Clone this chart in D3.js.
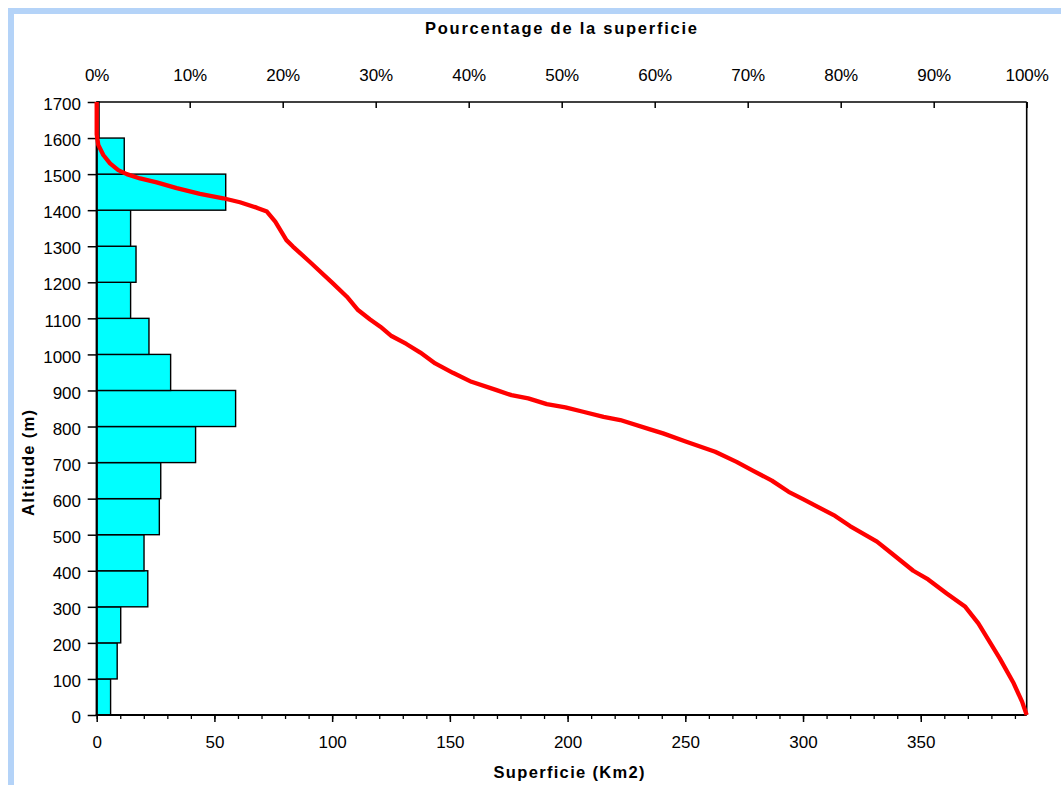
<!DOCTYPE html>
<html>
<head>
<meta charset="utf-8">
<script src="https://cdn.jsdelivr.net/npm/d3@7"></script>
<style>
  html, body { margin: 0; padding: 0; background: #ffffff; }
  svg { display: block; }
  text { font-family: "Liberation Sans", Arial, sans-serif; fill: #000; }
</style>
</head>
<body>
<script>
// ---- Data ----
// Histogram: area (km2) per 100 m altitude band (band lower bound)
const bandLower = [0, 100, 200, 300, 400, 500, 600, 700, 800, 900, 1000, 1100, 1200, 1300, 1400, 1500, 1600];
const bandArea  = [5.9, 8.7, 10.2, 21.7, 20.1, 26.6, 27.2, 42.0, 59.0, 31.4, 22.2, 14.4, 16.7, 14.4, 54.8, 11.7, 1.0];

// Hypsometric curve: cumulative % of area above altitude
const curveAltitude = [1700, 1610, 1581, 1553, 1530, 1511, 1500, 1488, 1477, 1461, 1445, 1433, 1422, 1407, 1396,
  1368, 1317, 1299, 1257, 1197, 1160, 1123, 1097, 1077, 1051, 1029, 1005, 975, 949, 924, 901, 887, 878, 862, 853,
  841, 827, 818, 792, 781, 758, 730, 702, 677, 650, 619, 598, 552, 524, 481, 448, 425, 400, 376, 337, 300, 254,
  199, 157, 88, 37, 0];
const curvePercent = [0, 0, 0.17, 0.71, 1.43, 2.32, 3.23, 4.66, 6.45, 8.6, 11.1, 13.6, 15.4, 17.2, 18.3,
  19.2, 20.4, 21.1, 22.9, 25.4, 26.9, 28.1, 29.4, 30.5, 31.7, 33.3, 34.8, 36.4, 38.3, 40.3, 43.0, 44.6, 46.4, 48.4, 50.4,
  52.3, 54.5, 56.3, 59.5, 60.9, 63.4, 66.5, 68.8, 70.6, 72.6, 74.4, 76.0, 79.4, 81.0, 83.9, 85.5, 86.6, 87.8, 89.4, 91.4, 93.4, 94.8,
  96.1, 97.1, 98.6, 99.5, 100];

// Axis ticks / labels
const areaMajorTicks = [0, 50, 100, 150, 200, 250, 300, 350];
const areaMinorTicks = d3.range(0, 400, 10);
const altitudeTicks = [0, 100, 200, 300, 400, 500, 600, 700, 800, 900, 1000, 1100, 1200, 1300, 1400, 1500, 1600, 1700];
const percentTicks = [0, 10, 20, 30, 40, 50, 60, 70, 80, 90, 100];
const totalArea = 395;

const titleTop = "Pourcentage de la superficie";
const titleBottom = "Superficie (Km2)";
const titleLeft = "Altitude (m)";

// ---- Layout ----
const W = 1061, H = 785;
const L = 96.7, R = 1026.7, T = 102, B = 715;

const svg = d3.select("body").append("svg").attr("width", W).attr("height", H);

// Outer light-blue frame (top and left bands)
svg.append("rect").attr("x", 8).attr("y", 8).attr("width", W - 8).attr("height", 6).attr("fill", "#b4d3f8");
svg.append("rect").attr("x", 8).attr("y", 8).attr("width", 6).attr("height", H - 8).attr("fill", "#b4d3f8");

const x = d3.scaleLinear().domain([0, totalArea]).range([L, R]);
const xPct = d3.scaleLinear().domain([0, 100]).range([L, R]);
const y = d3.scaleLinear().domain([0, 1700]).range([B, T]);

// Bars
svg.append("g").selectAll("rect").data(bandLower.map((b, i) => ({ b, a: bandArea[i] })))
  .join("rect")
  .attr("x", x(0))
  .attr("y", d => y(d.b + 100))
  .attr("width", d => x(d.a) - x(0))
  .attr("height", d => y(d.b) - y(d.b + 100))
  .attr("fill", "#00ffff")
  .attr("stroke", "#000")
  .attr("stroke-width", 1.4);

// Frame: top and right
svg.append("line").attr("x1", L).attr("x2", R).attr("y1", T).attr("y2", T).attr("stroke", "#000").attr("stroke-width", 1.6);
svg.append("line").attr("x1", R).attr("x2", R).attr("y1", T).attr("y2", B).attr("stroke", "#000").attr("stroke-width", 1.6);

const fs = "17px";
const ff = "Liberation Sans, Arial, sans-serif";

// Bottom axis - minor
const gMinor = svg.append("g").attr("transform", `translate(0,${B})`)
  .call(d3.axisBottom(x).tickValues(areaMinorTicks).tickSize(4).tickFormat(""));
gMinor.select(".domain").remove();
gMinor.selectAll("line").attr("stroke-width", 1.3);

// Bottom axis - major
const gBottom = svg.append("g").attr("transform", `translate(0,${B})`)
  .call(d3.axisBottom(x).tickValues(areaMajorTicks).tickSize(7).tickPadding(14).tickFormat(d3.format("d")));
gBottom.select(".domain").remove();
gBottom.selectAll("line").attr("stroke-width", 1.5);
gBottom.selectAll("text").style("font-size", fs).style("font-family", ff);

// Left axis
const gLeft = svg.append("g").attr("transform", `translate(${L},0)`)
  .call(d3.axisLeft(y).tickValues(altitudeTicks).tickSize(9).tickPadding(6.7).tickFormat(d3.format("d")));
gLeft.select(".domain").remove();
gLeft.selectAll("line").attr("stroke-width", 1.5);
gLeft.selectAll("text").style("font-size", fs).attr("dy", "0.45em").style("font-family", ff);

// Top axis (percent), ticks inward
const gTop = svg.append("g").attr("transform", `translate(0,${T})`)
  .call(d3.axisTop(xPct).tickValues(percentTicks).tickSize(-6).tickPadding(21).tickFormat(d => d + "%"));
gTop.select(".domain").remove();
gTop.selectAll("line").attr("stroke-width", 1.5);
gTop.selectAll("text").style("font-size", fs).style("font-family", ff);

// Axis lines (left, bottom)
svg.append("line").attr("x1", L).attr("x2", L).attr("y1", T).attr("y2", B + 1).attr("stroke", "#000").attr("stroke-width", 2.2);
svg.append("line").attr("x1", L - 1).attr("x2", R).attr("y1", B).attr("y2", B).attr("stroke", "#000").attr("stroke-width", 2.2);

// Curve
const line = d3.line().x(d => xPct(d[1])).y(d => y(d[0]));
svg.append("path")
  .datum(curveAltitude.map((a, i) => [a, curvePercent[i]]))
  .attr("d", line)
  .attr("fill", "none")
  .attr("stroke", "#ff0000")
  .attr("stroke-width", 4.3)
  .attr("stroke-linejoin", "round");

// Titles
svg.append("text").attr("x", 561).attr("y", 34).attr("text-anchor", "middle")
  .style("font-size", "16.5px").style("font-weight", "bold")
  .attr("textLength", 272).attr("lengthAdjust", "spacing").text(titleTop);

svg.append("text").attr("x", 569).attr("y", 778).attr("text-anchor", "middle")
  .style("font-size", "16.5px").style("font-weight", "bold")
  .attr("textLength", 151).attr("lengthAdjust", "spacing").text(titleBottom);

svg.append("text").attr("transform", "translate(34,463) rotate(-90)").attr("text-anchor", "middle")
  .style("font-size", "16.5px").style("font-weight", "bold")
  .attr("textLength", 106).attr("lengthAdjust", "spacing").text(titleLeft);
</script>
</body>
</html>
